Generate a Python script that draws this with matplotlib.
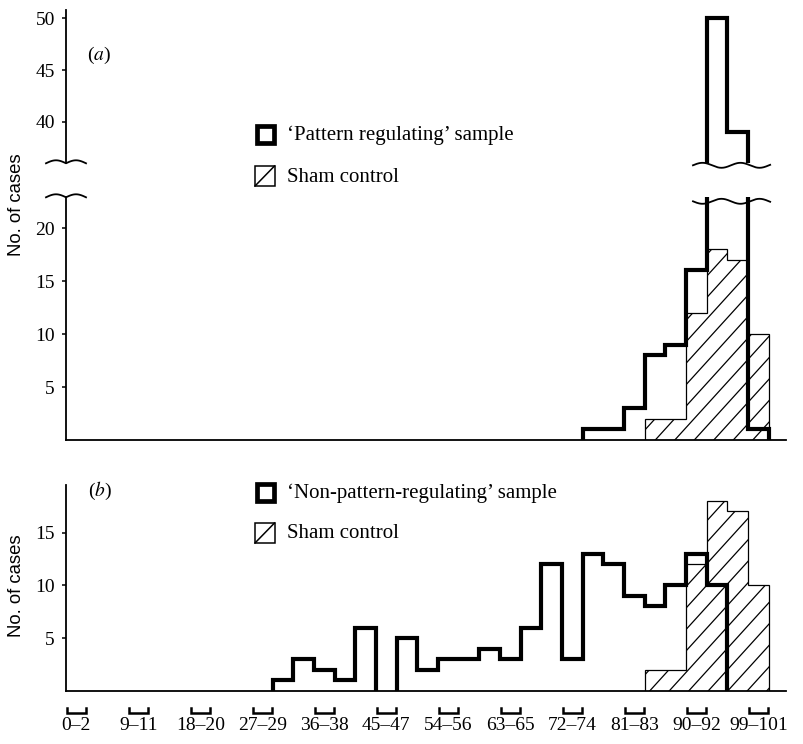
import numpy as np
import matplotlib
matplotlib.use('Agg')
import matplotlib.pyplot as plt
from matplotlib.patches import Rectangle
from matplotlib.lines import Line2D
from matplotlib.collections import LineCollection
import matplotlib.transforms as mtransforms

plt.rcParams['font.family'] = ['Liberation Serif', 'DejaVu Serif']
plt.rcParams['mathtext.fontset'] = 'stix'

# ---------------- data ----------------
bin_width = 3                      # score classes 0-2, 3-5, ..., 99-101
n_bins = 34
pattern_regulating = [0] * 25 + [1, 1, 3, 8, 9, 16, 50, 39, 1]
sham_control = [0] * 28 + [2, 2, 12, 18, 17, 10]
non_pattern_regulating = [0] * 10 + [1, 3, 2, 1, 6, 0, 5, 2, 3, 3, 4, 3, 6, 12,
                                     3, 13, 12, 9, 8, 10, 13, 10, 0, 0]
tick_labels = ['0–2', '9–11', '18–20', '27–29', '36–38', '45–47',
               '54–56', '63–65', '72–74', '81–83', '90–92', '99–101']
legend_a = ['‘Pattern regulating’ sample', 'Sham control']
legend_b = ['‘Non-pattern-regulating’ sample', 'Sham control']

edges = np.arange(n_bins + 1) * bin_width
tick_pos = np.arange(0, n_bins, 3) * bin_width + bin_width / 2

W, H = 804, 744
fig = plt.figure(figsize=(W / 100, H / 100), dpi=100)
fig.patch.set_facecolor('white')
ident = mtransforms.IdentityTransform()


def box(l, t, r, b):
    return [l / W, 1 - b / H, (r - l) / W, (b - t) / H]


XR = 786
ax_lo = fig.add_axes(box(66, 197.3, XR, 440))
ax_hi = fig.add_axes(box(66, 10, XR, 163.3))
ax_b = fig.add_axes(box(66, 485, XR, 691))

LO_TOP = 22.9
ax_lo.set_ylim(0, LO_TOP)
ax_hi.set_ylim(36, 50.8)
ax_b.set_ylim(0, 19.5)
for ax in (ax_lo, ax_hi, ax_b):
    ax.set_xlim(0, 104.5)
    ax.set_facecolor('none')
    for s in ('top', 'right'):
        ax.spines[s].set_visible(False)
    for s in ('left', 'bottom'):
        ax.spines[s].set_linewidth(1.3)
    ax.tick_params(axis='y', direction='out', length=3, width=1.1, pad=5,
                   labelsize=14)
ax_hi.spines['bottom'].set_visible(False)
ax_lo.set_xticks([])
ax_hi.set_xticks([])
ax_lo.set_yticks([5, 10, 15, 20])
ax_hi.set_yticks([40, 45, 50])
ax_b.set_yticks([5, 10, 15])
ax_b.set_xticks(tick_pos, tick_labels)
ax_b.tick_params(axis='x', length=0, pad=19, labelsize=14)
fig.canvas.draw()


def segments(vals):
    vals = np.asarray(vals)
    nz = vals > 0
    segs, i = [], 0
    while i < len(vals):
        if nz[i]:
            j = i
            while j < len(vals) and nz[j]:
                j += 1
            segs.append((i, j))
            i = j
        else:
            i += 1
    return segs


def hatch_lines(ax, patch, spacing=19.5, slope=1.1):
    bb = ax.bbox
    h = bb.height + 20
    lines = []
    k = bb.x0 - h / slope - spacing
    while k < bb.x1 + spacing:
        lines.append([(k, bb.y0 - 10), (k + h / slope, bb.y0 - 10 + h)])
        k += spacing
    lc = LineCollection(lines, colors='black', linewidths=0.9,
                        transform=ident, zorder=2.5)
    ax.add_collection(lc, autolim=False)
    lc.set_clip_path(patch)


def draw_sham(ax, vals):
    vals = np.asarray(vals, float)
    for s, e in segments(vals):
        p = ax.stairs(vals[s:e], edges[s:e + 1], baseline=0, fill=True,
                      facecolor='white', edgecolor='none', zorder=2)
        hatch_lines(ax, p)
        ax.stairs(vals[s:e], edges[s:e + 1], baseline=0, fill=False,
                  edgecolor='black', linewidth=0.9, zorder=2.6)


def draw_thick(ax, vals):
    vals = np.asarray(vals, float)
    for s, e in segments(vals):
        ax.stairs(vals[s:e], edges[s:e + 1], baseline=0, fill=False,
                  edgecolor='black', linewidth=3.0, zorder=3)


for ax in (ax_lo, ax_hi):
    draw_sham(ax, sham_control)
    draw_thick(ax, pattern_regulating)
draw_sham(ax_b, sham_control)
draw_thick(ax_b, non_pattern_regulating)

# bracket-shaped x ticks under panel (b)
tr = mtransforms.blended_transform_factory(ax_b.transData, ax_b.transAxes)
for c in tick_pos:
    ax_b.plot([c - 1.35, c - 1.35, c + 1.35, c + 1.35],
              [-0.083, -0.107, -0.107, -0.083], transform=tr,
              color='black', lw=1.8, clip_on=False, solid_joinstyle='miter')

# ---------------- break marks ----------------
def px(ax, x, y_axes):
    return ax.transData.transform((x, 0))[0], \
        ax.transAxes.transform((0, y_axes))[1]


for ax, ya in ((ax_hi, 0.0), (ax_lo, 1.0)):
    xc, yc = px(ax, 0, ya)
    xs = np.linspace(-20, 20, 120)
    ys = yc + 3.0 * np.abs(np.sin(np.pi * xs / 20))
    fig.add_artist(Line2D(xc + xs, ys, transform=ident, color='black',
                          lw=1.3))

tall = [i for i, v in enumerate(pattern_regulating) if v > LO_TOP]
x_left = edges[min(tall)] - 2.0
x_right = edges[max(tall) + 1] + 3.2
for ax, ya, ph in ((ax_hi, 0.0, 0.0), (ax_lo, 1.0, np.pi)):
    x0, yc = px(ax, x_left, ya)
    x1, _ = px(ax, x_right, ya)
    xs = np.linspace(x0, x1, 200)
    ys = yc + 2.5 * np.sin(2 * np.pi * (xs - x0) / 38 + ph)
    if ya == 0.0:
        ys = ys - 2
    else:
        ys = ys - 4
    fig.add_artist(Line2D(xs, ys, transform=ident, color='black', lw=1.3,
                          zorder=5))

# ---------------- legends & labels ----------------
def legend(y1, y2, labels):
    X0 = 254.5
    fig.add_artist(Rectangle((X0 + 2.5, H - y1 - 8.5), 16.5, 17,
                             transform=ident, facecolor='white',
                             edgecolor='black', lw=3.4))
    fig.add_artist(Rectangle((X0 + 0.5, H - y2 - 10), 19.5, 20,
                             transform=ident, facecolor='white',
                             edgecolor='black', lw=1.1))
    fig.add_artist(Line2D([X0 + 0.5, X0 + 20], [H - y2 - 10, H - y2 + 10],
                          transform=ident, color='black', lw=1.1))
    fig.text(287 / W, 1 - (y1 + 1) / H, labels[0], fontsize=15,
             va='center', ha='left')
    fig.text(287 / W, 1 - (y2 + 1) / H, labels[1], fontsize=15,
             va='center', ha='left')


legend(134, 176, legend_a)
legend(492, 533, legend_b)

fig.text(99 / W, 1 - 55 / H, '($a$)', fontsize=14, ha='center', va='center')
fig.text(100 / W, 1 - 491 / H, '($b$)', fontsize=14, ha='center', va='center')

for yc in (205, 586):
    fig.text(17 / W, 1 - yc / H, 'No. of cases', rotation=90, fontsize=13.3,
             ha='center', va='center', family=['Liberation Sans', 'DejaVu Sans'])

fig.savefig('out.png', dpi=100, facecolor='white')
